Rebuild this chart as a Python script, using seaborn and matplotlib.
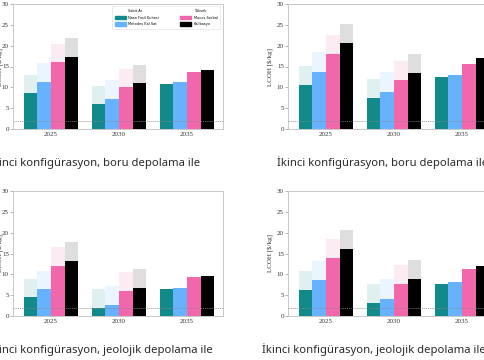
import numpy as np
import pandas as pd
import matplotlib
matplotlib.use("Agg")
import matplotlib.pyplot as plt
import matplotlib.patches as mpatches
import seaborn as sns

years = ["2025", "2030", "2035"]
scenarios = ["Nasa Fosil Kuhesi", "Metodes Kal Sat", "Mucos Sorbal", "Kalibasyo"]
colors = ["#138a8a", "#66b2ff", "#f266ab", "#000000"]

# solid (lower) values and total (incl. translucent upper part), per scenario, per year
tl_solid = [[8.6, 6.0, 10.8], [11.3, 7.3, 11.3], [16.0, 10.0, 13.6], [17.4, 11.0, 14.2]]
tl_total = [[13.0, 10.4, 10.8], [15.8, 11.8, 11.3], [20.4, 14.5, 13.6], [21.9, 15.4, 14.2]]
tr_solid = [[10.5, 7.4, 12.5], [13.8, 9.0, 13.0], [18.0, 11.8, 15.7], [20.6, 13.4, 17.0]]
tr_total = [[15.1, 12.0, 12.5], [18.4, 13.7, 13.0], [22.6, 16.4, 15.7], [25.2, 18.0, 17.0]]
bl_solid = [[4.6, 1.9, 6.4], [6.4, 2.7, 6.7], [12.0, 6.1, 9.3], [13.2, 6.7, 9.6]]
bl_total = [[9.0, 6.4, 6.4], [10.9, 7.2, 6.7], [16.6, 10.6, 9.3], [17.7, 11.2, 9.6]]
br_solid = [[6.2, 3.1, 7.8], [8.6, 4.2, 8.1], [14.0, 7.7, 11.2], [16.0, 9.0, 12.0]]
br_total = [[10.9, 7.7, 7.8], [13.2, 8.8, 8.1], [18.6, 12.2, 11.2], [20.6, 13.5, 12.0]]

captions = ["İkinci konfigürasyon, boru depolama ile",
            "İkinci konfigürasyon, boru depolama ile",
            "İkinci konfigürasyon, jeolojik depolama ile",
            "İkinci konfigürasyon, jeolojik depolama ile"]
legend_headers = ["Sabit Ar", "Yüksek"]
ref_line = 2.0

def to_df(vals):
    rows = []
    for s, row in zip(scenarios, vals):
        for y, v in zip(years, row):
            rows.append({"year": y, "scen": s, "val": v})
    return pd.DataFrame(rows)

W, H = 485, 360
fig = plt.figure(figsize=(W / 100, H / 100), dpi=100)

def px_ax(left, top, right, bottom):
    return fig.add_axes([left / W, 1 - bottom / H, (right - left) / W, (bottom - top) / H])

specs = [
    (px_ax(13, 4, 223, 129), tl_solid, tl_total),
    (px_ax(288, 4, 498, 129), tr_solid, tr_total),
    (px_ax(13, 191, 223, 316), bl_solid, bl_total),
    (px_ax(288, 191, 498, 316), br_solid, br_total),
]

serif = "Liberation Serif"
for i, (ax, solid, total) in enumerate(specs):
    sns.barplot(data=to_df(total), x="year", y="val", hue="scen", palette=colors,
                saturation=1, width=0.8, alpha=0.13, ax=ax, legend=False,
                errorbar=None, linewidth=0)
    sns.barplot(data=to_df(solid), x="year", y="val", hue="scen", palette=colors,
                saturation=1, width=0.8, ax=ax, legend=False, errorbar=None,
                linewidth=0)
    ax.axhline(ref_line, color="#888888", lw=0.6, ls=(0, (1.5, 1)), alpha=0.8, zorder=5)
    ax.set_ylim(0, 30)
    ax.set_xlim(-0.56, 2.53)
    ax.set_yticks(range(0, 31, 5))
    ax.set_xlabel("")
    ax.set_ylabel("LCOH [$/kg]", fontsize=5, family=serif, color="#333333")
    if i in (0, 2):
        ax.yaxis.set_label_coords(-8.5 / 210, 0.5)
    else:
        ax.yaxis.set_label_coords(-14 / 210, 0.5)
    for sp in ax.spines.values():
        sp.set_color("#c8c8c8")
        sp.set_linewidth(0.7)
    ax.tick_params(axis="y", labelsize=5, length=2, width=0.5, color="#999999", pad=1)
    ax.tick_params(axis="x", labelsize=5, length=0, pad=2)
    for lab in ax.get_xticklabels() + ax.get_yticklabels():
        lab.set_family(serif)
        lab.set_color("#333333")
    ax.grid(False)

# legend in top-left panel
ax0 = specs[0][0]
blank = mpatches.Patch(color="none")
handles = [blank, mpatches.Patch(color=colors[0]), mpatches.Patch(color=colors[1]),
           blank, mpatches.Patch(color=colors[2]), mpatches.Patch(color=colors[3])]
labels = [legend_headers[0], scenarios[0], scenarios[1],
          legend_headers[1], scenarios[2], scenarios[3]]
leg = ax0.legend(handles, labels, ncol=2, fontsize=2.5, loc="upper right",
                 bbox_to_anchor=(0.995, 0.995), frameon=True, fancybox=False,
                 edgecolor="#dddddd", handlelength=3.2, handleheight=1.1,
                 columnspacing=6, labelspacing=0.8, borderpad=0.7, handletextpad=0.8)
leg.get_frame().set_linewidth(0.5)

cap_font = "Noto Sans"
cap_kw = dict(va="center", fontsize=8.1, family=cap_font, color="#2a2a2a")
fig.text(200 / W, 1 - 163 / H, captions[0], ha="right", **cap_kw)
fig.text(277 / W, 1 - 163 / H, captions[1], ha="left", **cap_kw)
fig.text(213 / W, 1 - 350 / H, captions[2], ha="right", **cap_kw)
fig.text(262 / W, 1 - 350 / H, captions[3], ha="left", **cap_kw)

fig.savefig("out.png", dpi=100)
